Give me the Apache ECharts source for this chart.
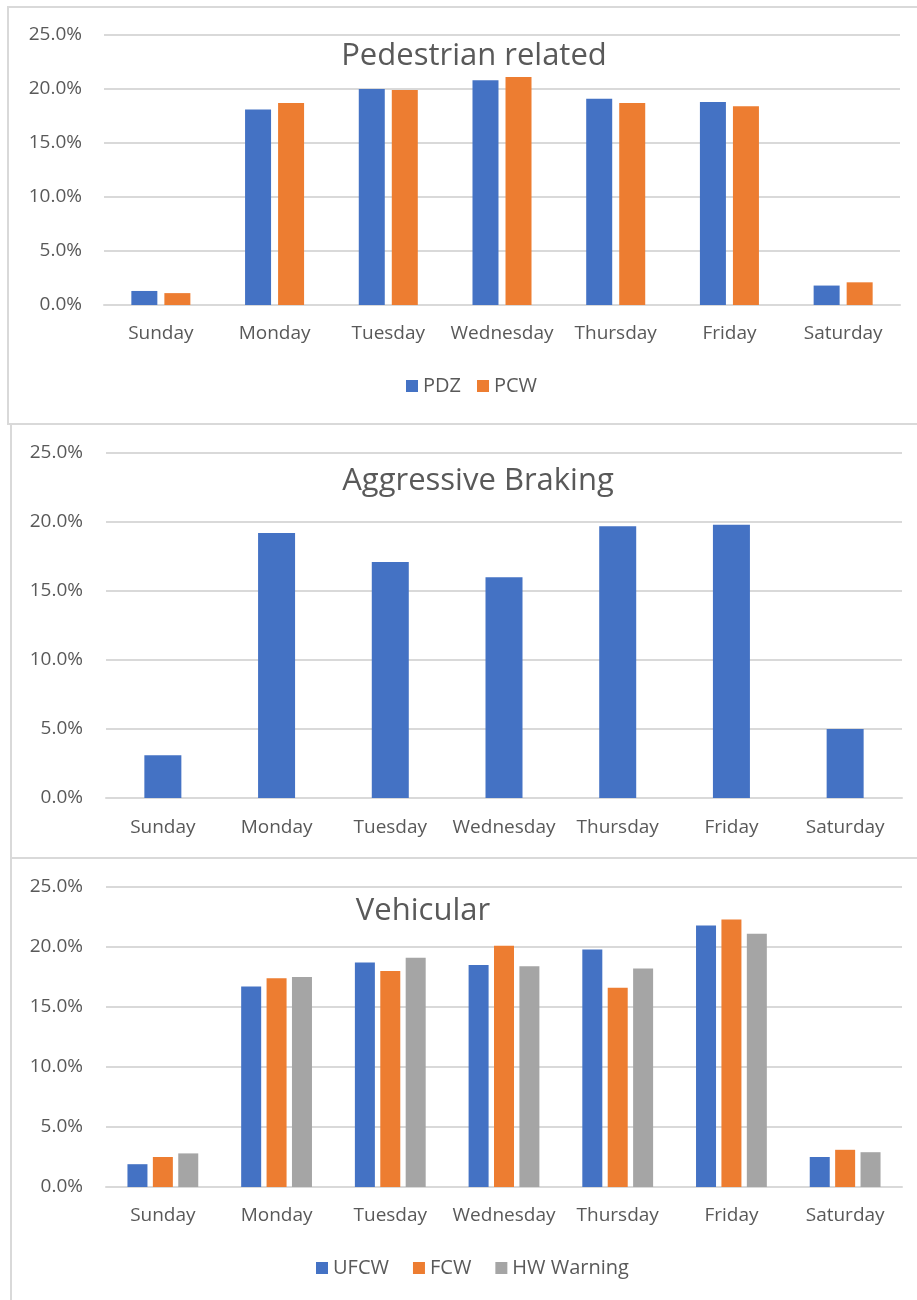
<!DOCTYPE html>
<html>
<head>
<meta charset="utf-8">
<script src="https://cdn.jsdelivr.net/npm/echarts@6/dist/echarts.min.js"></script>
<style>
html,body{margin:0;padding:0;background:#fff;}
#chart{width:917px;height:1300px;}
</style>
</head>
<body>
<div id="chart"></div>
<script>
// ---- data ----
const days = ['Sunday','Monday','Tuesday','Wednesday','Thursday','Friday','Saturday'];
const titles = ['Pedestrian related','Aggressive Braking','Vehicular'];
const pdz = [1.3, 18.1, 20.0, 20.8, 19.1, 18.8, 1.8];
const pcw = [1.1, 18.7, 19.9, 21.1, 18.7, 18.4, 2.1];
const braking = [3.1, 19.2, 17.1, 16.0, 19.7, 19.8, 5.0];
const ufcw = [1.9, 16.7, 18.7, 18.5, 19.8, 21.8, 2.5];
const fcw = [2.5, 17.4, 18.0, 20.1, 16.6, 22.3, 3.1];
const hwWarning = [2.8, 17.5, 19.1, 18.4, 18.2, 21.1, 2.9];
const yMin = 0, yMax = 25, yStep = 5;

// ---- styling ----
const FONT = "'Open Sans', 'Noto Sans', sans-serif";
const TXT = '#595959';
const GRID = '#D9D9D9';
const BLUE = '#4472C4', ORANGE = '#ED7D31', GRAY = '#A5A5A5';

const grids = [
  {left: 104, right: 17, top: 35, height: 270},
  {left: 106, right: 15, top: 453, height: 345},
  {left: 106, right: 15, top: 887, height: 300}
];

function xAx(i, margin) {
  return {
    type: 'category', gridIndex: i, data: days,
    axisLine: {lineStyle: {color: GRID, width: 2}},
    axisTick: {show: false},
    axisLabel: {color: TXT, fontFamily: FONT, fontSize: 19, margin: margin, interval: 0}
  };
}
function yAx(i, margin) {
  return {
    type: 'value', gridIndex: i, min: yMin, max: yMax, interval: yStep,
    axisLine: {show: false}, axisTick: {show: false},
    splitLine: {lineStyle: {color: GRID, width: 2}},
    axisLabel: {color: TXT, fontFamily: FONT, fontSize: 19, margin: margin,
      formatter: v => v.toFixed(1) + '%'}
  };
}
function bar(name, data, color, idx, width) {
  return {
    name: name, type: 'bar', xAxisIndex: idx, yAxisIndex: idx, data: data,
    barWidth: width, barGap: '27%',
    itemStyle: {color: color}, emphasis: {disabled: true}
  };
}
const titleStyle = {color: TXT, fontFamily: FONT, fontSize: 31, fontWeight: 'normal'};
const legendText = {color: TXT, fontFamily: FONT, fontSize: 20};

const option = {
  backgroundColor: '#fff',
  animation: false,
  textStyle: {fontFamily: FONT},
  title: [
    {text: titles[0], left: 469, top: 36, textAlign: 'center', textStyle: titleStyle},
    {text: titles[1], left: 473, top: 461, textAlign: 'center', textStyle: titleStyle},
    {text: titles[2], left: 418, top: 891, textAlign: 'center', textStyle: titleStyle}
  ],
  legend: [
    {data: ['PDZ','PCW'], left: 406, top: 376, padding: 0, itemGap: 16,
     itemWidth: 12, itemHeight: 12, icon: 'rect', textStyle: legendText},
    {data: ['UFCW','FCW','HW Warning'], left: 316, top: 1258, padding: 0, itemGap: 24,
     itemWidth: 12, itemHeight: 12, icon: 'rect', textStyle: legendText}
  ],
  grid: grids,
  xAxis: [xAx(0, 19), xAx(1, 20), xAx(2, 19)],
  yAxis: [yAx(0, 22), yAx(1, 23), yAx(2, 23)],
  series: [
    bar('PDZ', pdz, BLUE, 0, 26),
    bar('PCW', pcw, ORANGE, 0, 26),
    bar('Aggressive Braking', braking, BLUE, 1, 37),
    bar('UFCW', ufcw, BLUE, 2, 20),
    bar('FCW', fcw, ORANGE, 2, 20),
    bar('HW Warning', hwWarning, GRAY, 2, 20)
  ],
  graphic: [
    {type: 'polyline', shape: {points: [[917,7],[8,7],[8,424],[917,424]]},
     style: {stroke: GRID, lineWidth: 2, fill: null}, silent: true},
    {type: 'polyline', shape: {points: [[11,425],[11,858],[917,858]]},
     style: {stroke: GRID, lineWidth: 2, fill: null}, silent: true},
    {type: 'line', shape: {x1: 11, y1: 858, x2: 11, y2: 1300},
     style: {stroke: GRID, lineWidth: 2}, silent: true}
  ]
};

const chart = echarts.init(document.getElementById('chart'), null, {renderer: 'canvas'});
chart.setOption(option);
</script>
</body>
</html>
